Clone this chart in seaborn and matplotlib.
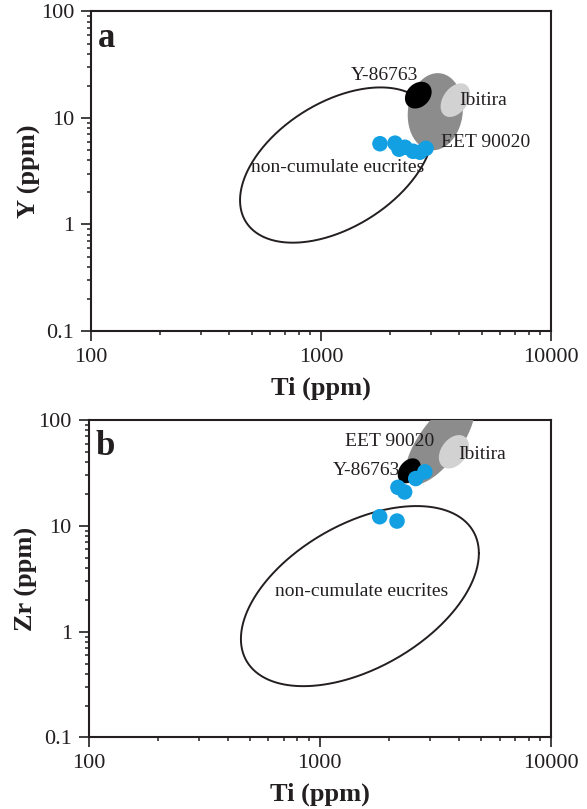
import numpy as np
import pandas as pd
import matplotlib
matplotlib.use("Agg")
import matplotlib.pyplot as plt
import seaborn as sns
from matplotlib.ticker import FixedLocator, FixedFormatter, LogLocator, NullFormatter

sns.set_style("ticks")
plt.rcParams['font.family'] = ['Liberation Serif', 'DejaVu Serif']
plt.rcParams['mathtext.fontset'] = 'stix'

TXT = "#231f20"
BLUE = "#12a0e3"

# ---- data -------------------------------------------------------------
# panel a : Ti vs Y (blue dots)
ti_a = [1805, 2098, 2183, 2317, 2512, 2692, 2861]
y_a = [5.73, 5.80, 5.09, 5.31, 4.87, 4.77, 5.19]
# panel b : Ti vs Zr (blue dots)
ti_b = [1816, 2158, 2178, 2328, 2600, 2846]
zr_b = [12.2, 11.1, 23.1, 20.9, 28.0, 32.4]

# field ellipses in log10 space: (centre log Ti, half-range log Ti,
# centre log el, half-range log el, phase in degrees)
field_a = {
    "non-cumulate eucrites": (3.068, 0.420, 0.558, 0.729, 63.0),
    "EET 90020": (3.497, 0.120, 1.059, 0.362, 85.0),
    "Ibitira": (3.584, 0.064, 1.1675, 0.158, 68.0),
    "Y-86763": (3.423, 0.058, 1.2145, 0.1255, 76.0),
}
field_b = {
    "non-cumulate eucrites": (3.1735, 0.5145, 0.336, 0.851, 61.6),
    "EET 90020": (3.520, 0.150, 1.800, 0.410, 45.0),
    "Ibitira": (3.580, 0.065, 1.700, 0.158, 70.0),
    "Y-86763": (3.387, 0.050, 1.520, 0.118, 72.0),
}
field_style = {
    "non-cumulate eucrites": None,
    "EET 90020": "#8c8c8c",
    "Ibitira": "#d2d2d2",
    "Y-86763": "#000000",
}

# label positions (Ti, element) for each panel
labels_a = {
    "Y-86763": (1897, 22.7),
    "Ibitira": (5058, 13.2),
    "EET 90020": (5214, 5.35),
    "non-cumulate eucrites": (1186, 3.09),
}
labels_b = {
    "EET 90020": (2014, 57.2),
    "Y-86763": (1596, 30.2),
    "Ibitira": (5024, 42.5),
    "non-cumulate eucrites": (1524, 2.17),
}

x_ticks = [100, 1000, 10000]
x_ticklabels = ["100", "1000", "10000"]
y_ticks = [0.1, 1, 10, 100]
y_ticklabels = ["0.1", "1", "10", "100"]


def ellipse_pts(cx, rx, cy, ry, phi, n=400):
    t = np.linspace(0, 2 * np.pi, n)
    lx = cx + rx * np.cos(t)
    ly = cy + ry * np.cos(t - np.deg2rad(phi))
    return 10 ** lx, 10 ** ly


fig = plt.figure(figsize=(5.87, 8.09), dpi=100)
ax_a = fig.add_axes([0.155, 0.5909, 0.7837, 0.3949])
ax_b = fig.add_axes([0.1508, 0.0884, 0.7879, 0.3924])


def draw_panel(ax, fields, labels, tix, elv, letter, ylabel):
    ax.set_xscale("log")
    ax.set_yscale("log")
    ax.set_xlim(100, 10000)
    ax.set_ylim(0.1, 100)
    order = ["non-cumulate eucrites", "EET 90020", "Ibitira", "Y-86763"]
    for name in order:
        ex, ey = ellipse_pts(*fields[name])
        col = field_style[name]
        if col is None:
            ax.plot(ex, ey, color=TXT, lw=1.4, zorder=2)
        else:
            ax.fill(ex, ey, color=col, lw=0, zorder=3)
    df = pd.DataFrame({"Ti": tix, "El": elv})
    sns.scatterplot(data=df, x="Ti", y="El", ax=ax, color=BLUE, s=125,
                    edgecolor="none", linewidth=0, zorder=5)
    for name, (lx, ly) in labels.items():
        ax.text(lx, ly, name, ha="center", va="baseline", fontsize=14,
                color=TXT, zorder=6)
    ax.text(0.015, 0.89, letter, transform=ax.transAxes, fontsize=25,
            fontweight="bold", color=TXT, ha="left", va="baseline")

    ax.xaxis.set_major_locator(FixedLocator(x_ticks))
    ax.xaxis.set_major_formatter(FixedFormatter(x_ticklabels))
    ax.yaxis.set_major_locator(FixedLocator(y_ticks))
    ax.yaxis.set_major_formatter(FixedFormatter(y_ticklabels))
    ax.xaxis.set_minor_locator(LogLocator(base=10, subs=np.arange(2, 10)))
    ax.yaxis.set_minor_locator(LogLocator(base=10, subs=np.arange(2, 10)))
    ax.xaxis.set_minor_formatter(NullFormatter())
    ax.yaxis.set_minor_formatter(NullFormatter())
    ax.tick_params(which="major", direction="out", length=7, width=1.2,
                   labelsize=16, colors=TXT, pad=5, top=False, right=False)
    ax.tick_params(which="minor", direction="out", length=3, width=1.1,
                   colors=TXT, top=False, right=False)
    for sp in ax.spines.values():
        sp.set_visible(True)
        sp.set_linewidth(1.5)
        sp.set_color(TXT)
    ax.set_xlabel("Ti (ppm)", fontsize=19, fontweight="bold", color=TXT,
                  labelpad=7)
    ax.set_ylabel(ylabel, fontsize=19, fontweight="bold", color=TXT,
                  labelpad=0)


draw_panel(ax_a, field_a, labels_a, ti_a, y_a, "a", "Y (ppm)")
draw_panel(ax_b, field_b, labels_b, ti_b, zr_b, "b", "Zr (ppm)")

fig.savefig("out.png", dpi=100)
